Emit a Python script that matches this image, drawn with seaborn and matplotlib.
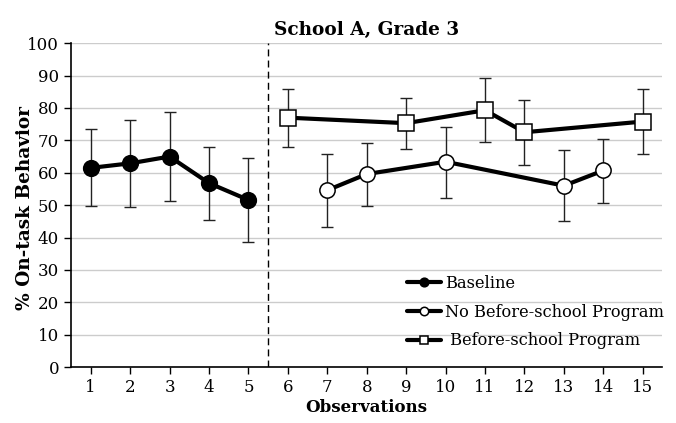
import numpy as np
import pandas as pd
import matplotlib
matplotlib.use("Agg")
import matplotlib.pyplot as plt
import seaborn as sns

# data
base_obs = [1, 2, 3, 4, 5]
base_mean = [61.5, 62.9, 65.0, 56.8, 51.6]
base_lo = [49.6, 49.4, 51.2, 45.5, 38.7]
base_hi = [73.5, 76.3, 78.6, 67.8, 64.4]

nobsp_obs = [7, 8, 10, 13, 14]
nobsp_mean = [54.6, 59.6, 63.4, 56.0, 60.7]
nobsp_lo = [43.4, 49.6, 52.1, 45.0, 50.6]
nobsp_hi = [65.7, 69.2, 74.2, 67.0, 70.4]

bsp_obs = [6, 9, 11, 12, 15]
bsp_mean = [77.0, 75.3, 79.3, 72.5, 75.8]
bsp_lo = [68.1, 67.4, 69.4, 62.3, 65.8]
bsp_hi = [85.9, 83.1, 89.2, 82.4, 85.7]

x_ticks = list(range(1, 16))
y_ticks = list(range(0, 101, 10))

sns.set_style("white")
plt.rcParams["font.family"] = ["DejaVu Serif"]
plt.rcParams["text.color"] = "black"
plt.rcParams["axes.labelcolor"] = "black"

fig, ax = plt.subplots(figsize=(6.76, 4.23), dpi=100)
fig.subplots_adjust(left=0.105, right=0.98, top=0.898, bottom=0.132)

series = [
    ("Baseline", base_obs, base_mean, base_lo, base_hi, "o", "black", 11.3),
    ("No Before-school Program", nobsp_obs, nobsp_mean, nobsp_lo, nobsp_hi, "o", "white", 11),
    (" Before-school Program", bsp_obs, bsp_mean, bsp_lo, bsp_hi, "s", "white", 11.5),
]

for name, obs, mean, lo, hi, mk, fc, ms in series:
    obs = np.array(obs); mean = np.array(mean)
    err = [mean - np.array(lo), np.array(hi) - mean]
    ax.errorbar(obs, mean, yerr=err, fmt="none", ecolor="#222222",
                elinewidth=1.0, capsize=4.5, capthick=1.0, zorder=2)
    df = pd.DataFrame({"obs": obs, "val": mean})
    sns.lineplot(data=df, x="obs", y="val", ax=ax, color="black", lw=3,
                 marker=mk, markersize=ms, markerfacecolor=fc,
                 markeredgecolor="black", markeredgewidth=1.1,
                 label=name, zorder=3)

ax.axvline(5.5, color="black", ls=(0, (5, 3)), lw=1)

ax.set_xlim(0.5, 15.5)
ax.set_ylim(0, 100)
ax.set_xticks(x_ticks)
ax.set_yticks(y_ticks)
ax.tick_params(axis="both", labelsize=12, length=5, width=1, direction="out",
               bottom=True, left=True, colors="black")
ax.yaxis.grid(True, color="#cccccc", lw=1)
ax.set_axisbelow(True)
for s in ["top", "right"]:
    ax.spines[s].set_visible(False)
for s in ["left", "bottom"]:
    ax.spines[s].set_color("black")
    ax.spines[s].set_linewidth(1.2)

ax.set_xlabel("Observations", fontsize=12, fontweight="bold", labelpad=2)
ax.set_ylabel("% On-task Behavior", fontsize=13.3, fontweight="bold")
ax.yaxis.set_label_coords(-0.062, 0.49)
ax.set_title("School A, Grade 3", fontsize=13.3, fontweight="bold", pad=6,
             color="black")

leg = ax.legend(loc="upper left", bbox_to_anchor=(0.568, 0.285), frameon=False,
                fontsize=11.7, handlelength=2.1, handletextpad=0.25,
                labelspacing=0.72, markerscale=0.55, borderpad=0,
                borderaxespad=0)
for t in leg.get_texts():
    t.set_color("black")

fig.savefig("out.png", dpi=100)
